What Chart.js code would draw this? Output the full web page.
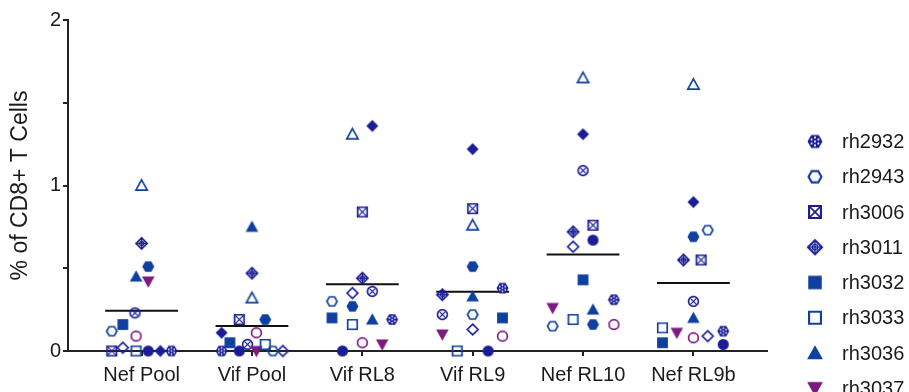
<!DOCTYPE html>
<html>
<head>
<meta charset="utf-8">
<title>CD8+ T cell responses</title>
<script src="https://cdn.jsdelivr.net/npm/chart.js@4.4.1/dist/chart.umd.min.js"></script>
<style>
    html, body { margin: 0; padding: 0; background: #fff; overflow: hidden; }
    #wrap { width: 909px; height: 392px; }
</style>
</head>
<body>
<div id="wrap"><canvas id="tcellChart" width="909" height="392"></canvas></div>
<script>
const categories = ['Nef Pool', 'Vif Pool', 'Vif RL8', 'Vif RL9', 'Nef RL10', 'Nef RL9b'];
const yTicks = [0, 1, 2];

// % of CD8+ T cells, one value per peptide (same order as categories)
const rh2932 = [0, 0, 0.19, 0.38, 0.31, 0.12];
const rh2943 = [0.12, 0, 0.30, 0.22, 0.15, 0.73];
const rh3006 = [0, 0.19, 0.84, 0.86, 0.76, 0.55];
const rh3011 = [0.65, 0.47, 0.44, 0.34, 0.72, 0.55];
const rh3032 = [0.16, 0.05, 0.20, 0.20, 0.43, 0.05];
const rh3033 = [0, 0.04, 0.16, 0, 0.19, 0.14];
const rh3036 = [0.45, 0.75, 0.19, 0.33, 0.25, 0.20];
const rh3037 = [0.42, 0, 0.04, 0.10, 0.26, 0.11];
// the last seven legend entries fall below the bottom edge of the figure,
// so their animal IDs can't be read; placeholders are used
const animal09 = [1.00, 0.32, 1.31, 0.76, 1.65, 1.61];
const animal10 = [0, 0.11, 1.36, 1.22, 1.31, 0.90];
const animal11 = [0.02, 0, 0.35, 0.13, 0.63, 0.09];
const animal12 = [0, 0, 0, 0, 0.67, 0.04];
const animal13 = [0.23, 0.04, 0.36, 0.22, 1.09, 0.30];
const animal14 = [0.51, 0.19, 0.27, 0.51, 0.16, 0.69];
const animal15 = [0.09, 0.11, 0.05, 0.09, 0.16, 0.08];

const animals = ['rh2932', 'rh2943', 'rh3006', 'rh3011', 'rh3032', 'rh3033', 'rh3036', 'rh3037',
    'animal 9', 'animal 10', 'animal 11', 'animal 12', 'animal 13', 'animal 14', 'animal 15'];
const series = [rh2932, rh2943, rh3006, rh3011, rh3032, rh3033, rh3036, rh3037,
    animal09, animal10, animal11, animal12, animal13, animal14, animal15];

// horizontal spread of each symbol inside its column (category units)
const jitter = [
    [0.27, -0.275, 0.27, 0.27, 0.28, 0.27],
    [-0.27, 0.19, -0.275, 0, -0.275, 0.13],
    [-0.27, -0.115, 0, 0, 0.09, 0.07],
    [0, 0, 0, -0.275, -0.09, -0.09],
    [-0.17, -0.2, -0.275, 0.27, 0, -0.28],
    [-0.05, 0.12, -0.09, -0.14, -0.09, -0.28],
    [-0.05, 0, 0.09, 0, 0.09, 0],
    [0.06, 0.04, 0.18, -0.275, -0.275, -0.15],
    [0, 0, -0.09, 0, 0, 0],
    [0.17, -0.275, 0.09, 0, 0, 0],
    [-0.17, 0.28, -0.09, 0, -0.09, 0.13],
    [0.06, -0.115, -0.18, 0.14, 0.09, 0.27],
    [-0.06, -0.04, 0.09, -0.275, 0, 0],
    [0.06, 0.12, -0.09, 0, 0.09, 0],
    [-0.05, 0.04, 0, 0.27, 0.28, 0]
];

const NAVY = '#1a1d96';
const BLUE = '#0f3f9f';
const PURPLE = '#7d1a80';
const markerKinds = ['dotHex', 'openHex', 'boxX', 'crossDiamond', 'square', 'openSquare', 'triangle', 'downTriangle',
    'openTriangle', 'diamond', 'openDiamond', 'circle', 'circleX', 'hexagon', 'openCircle'];
const markerColors = [NAVY, BLUE, NAVY, NAVY, BLUE, BLUE, BLUE, PURPLE,
    BLUE, NAVY, NAVY, NAVY, NAVY, BLUE, PURPLE];

const FONT = '"Liberation Sans", Arial, sans-serif';

function makeMarker(kind, color, size) {
    const dim = Math.ceil(size + 5);
    const c = document.createElement('canvas');
    c.width = c.height = dim;
    const g = c.getContext('2d');
    const m = dim / 2;
    const r = size / 2;
    const lw = Math.max(1.5, size * 0.14);
    const ri = r - lw / 2;
    g.fillStyle = color;
    g.strokeStyle = color;
    g.lineWidth = lw;

    const hex = rad => {
        g.beginPath();
        for (let k = 0; k < 6; k++) {
            const a = k * Math.PI / 3;
            g.lineTo(m + rad * Math.cos(a), m + rad * Math.sin(a));
        }
        g.closePath();
    };
    const diamond = rad => {
        g.beginPath();
        g.moveTo(m, m - rad); g.lineTo(m + rad, m); g.lineTo(m, m + rad); g.lineTo(m - rad, m);
        g.closePath();
    };
    const tri = (rad, dir) => {
        g.beginPath();
        g.moveTo(m, m - dir * rad);
        g.lineTo(m + rad, m + dir * rad * 0.8);
        g.lineTo(m - rad, m + dir * rad * 0.8);
        g.closePath();
    };
    const box = half => { g.beginPath(); g.rect(m - half, m - half, half * 2, half * 2); };
    const circ = rad => { g.beginPath(); g.arc(m, m, rad, 0, Math.PI * 2); };
    const line = (x1, y1, x2, y2) => { g.beginPath(); g.moveTo(x1, y1); g.lineTo(x2, y2); g.stroke(); };

    switch (kind) {
        case 'dotHex':
            hex(r); g.fill();
            g.fillStyle = '#fff';
            for (let k = 0; k < 6; k++) {
                const a = k * Math.PI / 3 + Math.PI / 6;
                g.beginPath(); g.arc(m + r * 0.52 * Math.cos(a), m + r * 0.52 * Math.sin(a), size * 0.07, 0, Math.PI * 2); g.fill();
            }
            g.beginPath(); g.arc(m, m, size * 0.07, 0, Math.PI * 2); g.fill();
            break;
        case 'openHex': hex(ri); g.stroke(); break;
        case 'hexagon': hex(r); g.fill(); break;
        case 'boxX':
            box(ri * 0.92); g.stroke();
            g.lineWidth = lw * 0.75;
            line(m - ri * 0.8, m - ri * 0.8, m + ri * 0.8, m + ri * 0.8);
            line(m + ri * 0.8, m - ri * 0.8, m - ri * 0.8, m + ri * 0.8);
            break;
        case 'crossDiamond':
            diamond(ri * 1.08); g.stroke();
            g.lineWidth = 1.3;
            circ(r * 0.36); g.stroke();
            line(m - r * 0.9, m, m + r * 0.9, m);
            line(m, m - r * 0.9, m, m + r * 0.9);
            break;
        case 'square': box(r * 0.9); g.fill(); break;
        case 'openSquare': box(ri * 0.92); g.stroke(); break;
        case 'triangle': tri(r * 1.05, 1); g.fill(); break;
        case 'downTriangle': tri(r * 1.05, -1); g.fill(); break;
        case 'openTriangle': tri(ri * 1.1, 1); g.stroke(); break;
        case 'diamond': diamond(r * 1.0); g.fill(); break;
        case 'openDiamond': diamond(ri * 1.05); g.stroke(); break;
        case 'circle': circ(r * 0.92); g.fill(); break;
        case 'openCircle': circ(ri * 0.95); g.stroke(); break;
        case 'circleX':
            circ(ri * 0.95); g.stroke();
            g.lineWidth = lw * 0.75;
            line(m - ri * 0.6, m - ri * 0.6, m + ri * 0.6, m + ri * 0.6);
            line(m + ri * 0.6, m - ri * 0.6, m - ri * 0.6, m + ri * 0.6);
            break;
    }
    return c;
}

const plotMarkers = markerKinds.map((k, i) => makeMarker(k, markerColors[i], 12));
const legendMarkers = markerKinds.map((k, i) => makeMarker(k, markerColors[i], 15));

const means = categories.map((_, i) => series.reduce((sum, s) => sum + s[i], 0) / series.length);
const meanPoints = [];
means.forEach((m, i) => {
    meanPoints.push({ x: i - 0.33, y: m }, { x: i + 0.33, y: m }, { x: i + 0.5, y: null });
});

const animalDatasets = series.map((values, a) => ({
    label: animals[a],
    data: values.map((v, i) => ({ x: i + jitter[a][i], y: v })),
    pointStyle: plotMarkers[a],
    pointRadius: 6,
    showLine: false,
    clip: false,
    order: 0
}));

// legend drawn down the right side; like the original, it runs off the bottom
const sideLegend = {
    id: 'sideLegend',
    afterDraw(chart) {
        const ctx = chart.ctx;
        const x0 = chart.chartArea.right + 48;
        ctx.save();
        ctx.font = '20px ' + FONT;
        ctx.fillStyle = '#1a1a1a';
        ctx.textBaseline = 'middle';
        animals.forEach((name, i) => {
            const y = 141.5 + i * 35.25;
            const img = legendMarkers[i];
            ctx.drawImage(img, x0 - img.width / 2, y - img.height / 2);
            ctx.fillText(name, x0 + 27, y + 1);
        });
        ctx.restore();
    }
};

const ctx = document.getElementById('tcellChart').getContext('2d');
new Chart(ctx, {
    type: 'scatter',
    data: {
        datasets: [
            {
                label: 'mean',
                data: meanPoints,
                showLine: true,
                spanGaps: false,
                borderColor: '#111',
                borderWidth: 2,
                pointRadius: 0,
                order: 1
            },
            ...animalDatasets
        ]
    },
    options: {
        responsive: false,
        animation: false,
        events: [],
        layout: { padding: { top: 20, right: 142, left: 0, bottom: 0 } },
        plugins: {
            legend: { display: false },
            tooltip: { enabled: false }
        },
        scales: {
            x: {
                type: 'linear',
                min: -0.667,
                max: 5.667,
                afterBuildTicks: axis => { axis.ticks = categories.map((_, i) => ({ value: i })); },
                afterFit: axis => { axis.height = 41; },
                ticks: {
                    callback: v => categories[v] ?? '',
                    font: { size: 20, family: FONT },
                    color: '#1a1a1a',
                    padding: 7,
                    maxRotation: 0,
                    autoSkip: false
                },
                grid: { display: true, drawOnChartArea: false, drawTicks: true, tickLength: 5, color: '#222', lineWidth: 2 },
                border: { display: true, color: '#222', width: 2 }
            },
            y: {
                min: 0,
                max: 2,
                afterFit: axis => { axis.width = 68; },
                ticks: {
                    stepSize: 0.5,
                    callback: v => yTicks.includes(v) ? String(v) : '',
                    font: { size: 20, family: FONT },
                    color: '#1a1a1a',
                    padding: 2,
                    autoSkip: false
                },
                title: {
                    display: true,
                    text: '% of CD8+ T Cells',
                    font: { size: 23, family: FONT },
                    color: '#1a1a1a',
                    padding: { top: 7, bottom: 0 }
                },
                grid: { display: true, drawOnChartArea: false, drawTicks: true, tickLength: 5, color: '#222', lineWidth: 2 },
                border: { display: true, color: '#222', width: 2 }
            }
        }
    },
    plugins: [sideLegend]
});
</script>
</body>
</html>
